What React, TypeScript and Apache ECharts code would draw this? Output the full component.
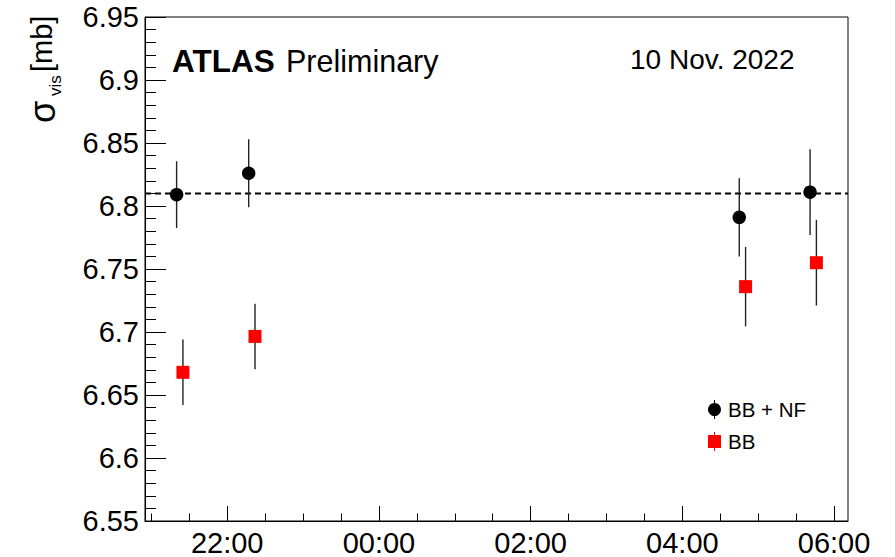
import { useEffect, useRef } from "react";
import * as echarts from "echarts";

// Visible cross-section measurements over one night, clock times HH:MM
const xRange = ["20:55", "06:11"];
const majorTimeTicks = ["22:00", "00:00", "02:00", "04:00", "06:00"];
const minorTimeTicks = [
  "21:00", "21:30", "22:30", "23:00", "23:30", "00:30", "01:00", "01:30",
  "02:30", "03:00", "03:30", "04:30", "05:00", "05:30",
];

const bbnfTimes = ["21:20", "22:17", "04:45", "05:41"];
const bbnfValues = [6.809, 6.826, 6.791, 6.811];
const bbnfErrors = [0.0265, 0.027, 0.031, 0.034];

const bbTimes = ["21:25", "22:22", "04:50", "05:46"];
const bbValues = [6.668, 6.6965, 6.736, 6.755];
const bbErrors = [0.026, 0.026, 0.0315, 0.034];

const referenceLevel = 6.81;
const yMin = 6.55;
const yMax = 6.95;
const yStep = 0.05;

const FONT = '"Liberation Sans", Arial, Helvetica, sans-serif';

// clock time -> hours; times after midnight belong to the next day
const toHours = (t: string) => {
  const [h, m] = t.split(":").map(Number);
  const v = h + m / 60;
  return v < 12 ? v + 24 : v;
};

const toClock = (v: number) => {
  const total = Math.round(v * 60);
  const h = Math.floor(total / 60) % 24;
  const m = total % 60;
  return `${String(h).padStart(2, "0")}:${String(m).padStart(2, "0")}`;
};

const circleIcon =
  "path://M6.5,3 A6.5,6.5 0 1 1 6.49,3 Z M6,0 H7 V19 H6 Z";
const squareIcon = "path://M0,3 H13 V16 H0 Z M6,0 H7 V19 H6 Z";

const errorBarSeries = (times: string[], values: number[], errors: number[]) => ({
  type: "custom",
  z: 2,
  silent: true,
  data: times.map((t, i) => [toHours(t), values[i], errors[i]]),
  encode: { x: 0, y: 1 },
  renderItem: (_params: any, api: any) => {
    const x = api.value(0);
    const y = api.value(1);
    const e = api.value(2);
    const top = api.coord([x, y + e]);
    const bottom = api.coord([x, y - e]);
    return {
      type: "line",
      shape: { x1: top[0], y1: top[1], x2: bottom[0], y2: bottom[1] },
      style: { stroke: "#222", lineWidth: 1.4 },
    };
  },
});

export default function App() {
  const ref = useRef<HTMLDivElement>(null);

  useEffect(() => {
    if (!ref.current) return;
    const chart = echarts.init(ref.current, undefined, { renderer: "svg" });
    const xMin = toHours(xRange[0]);
    const xMax = toHours(xRange[1]);
    const majors = majorTimeTicks.map(toHours);
    const minors = minorTimeTicks.map(toHours);

    chart.setOption({
      animation: false,
      backgroundColor: "#fff",
      grid: {
        left: 145,
        right: 47,
        top: 17,
        bottom: 34,
        show: true,
        borderColor: "#000",
        borderWidth: 1,
      },
      xAxis: [
        {
          type: "value",
          min: xMin,
          max: xMax,
          position: "bottom",
          axisLine: { show: true, lineStyle: { color: "#000", width: 1 } },
          axisTick: {
            show: true,
            inside: true,
            length: 15,
            customValues: majors,
            lineStyle: { color: "#000", width: 1 },
          },
          axisLabel: {
            customValues: majors,
            formatter: (v: number) => toClock(v),
            fontSize: 29,
            fontFamily: FONT,
            color: "#000",
            margin: 7,
          },
          splitLine: { show: false },
        },
        {
          type: "value",
          min: xMin,
          max: xMax,
          position: "bottom",
          axisLine: { show: false },
          axisTick: {
            show: true,
            inside: true,
            length: 7.5,
            customValues: minors,
            lineStyle: { color: "#000", width: 1 },
          },
          axisLabel: { show: false },
          splitLine: { show: false },
        },
      ],
      yAxis: {
        type: "value",
        min: yMin,
        max: yMax,
        interval: yStep,
        axisLine: { show: true, lineStyle: { color: "#000", width: 1 } },
        axisTick: {
          show: true,
          inside: true,
          length: 21,
          lineStyle: { color: "#000", width: 1 },
        },
        minorTick: {
          show: true,
          splitNumber: 5,
          length: 11,
          lineStyle: { color: "#000", width: 1 },
        },
        axisLabel: {
          showMinLabel: true,
          showMaxLabel: true,
          formatter: (v: number) => String(parseFloat(v.toFixed(2))),
          fontSize: 29,
          fontFamily: FONT,
          color: "#000",
          margin: 6,
        },
        splitLine: { show: false },
        minorSplitLine: { show: false },
      },
      legend: {
        orient: "vertical",
        left: 703,
        top: 394,
        itemWidth: 13,
        itemHeight: 19,
        itemGap: 11,
        selectedMode: false,
        textStyle: {
          fontSize: 20.5,
          lineHeight: 19,
          fontFamily: FONT,
          color: "#000",
          padding: [0, 0, 0, 2],
        },
        data: [
          { name: "BB + NF", icon: circleIcon },
          { name: "BB", icon: squareIcon },
        ],
      },
      graphic: [
        {
          type: "text",
          x: 172,
          y: 61,
          style: {
            text: "ATLAS",
            fontSize: 31.5,
            fontWeight: "bold",
            fontFamily: FONT,
            fill: "#000",
            textAlign: "left",
            textVerticalAlign: "middle",
          },
        },
        {
          type: "text",
          x: 286,
          y: 61,
          style: {
            text: "Preliminary",
            fontSize: 30.5,
            fontFamily: FONT,
            fill: "#000",
            textAlign: "left",
            textVerticalAlign: "middle",
          },
        },
        {
          type: "text",
          x: 630,
          y: 59,
          style: {
            text: "10 Nov. 2022",
            fontSize: 28,
            fontFamily: FONT,
            fill: "#000",
            textAlign: "left",
            textVerticalAlign: "middle",
          },
        },
        {
          type: "group",
          x: 42,
          y: 123,
          rotation: Math.PI / 2,
          children: [
            {
              type: "text",
              x: 0,
              y: 0,
              style: {
                text: "σ",
                fontSize: 36,
                fontFamily: FONT,
                fill: "#000",
                textAlign: "left",
                textVerticalAlign: "middle",
              },
            },
            {
              type: "text",
              x: 27,
              y: 13,
              style: {
                text: "vis",
                fontSize: 17,
                fontFamily: FONT,
                fill: "#000",
                textAlign: "left",
                textVerticalAlign: "middle",
              },
            },
            {
              type: "text",
              x: 51,
              y: 0,
              style: {
                text: "[mb]",
                fontSize: 29,
                fontFamily: FONT,
                fill: "#000",
                textAlign: "left",
                textVerticalAlign: "middle",
              },
            },
          ],
        },
      ],
      series: [
        {
          type: "line",
          silent: true,
          z: 1,
          symbol: "none",
          data: [
            [xMin, referenceLevel],
            [xMax, referenceLevel],
          ],
          lineStyle: { color: "#000", width: 2, type: [6, 4] },
        },
        errorBarSeries(bbnfTimes, bbnfValues, bbnfErrors),
        errorBarSeries(bbTimes, bbValues, bbErrors),
        {
          name: "BB + NF",
          type: "scatter",
          z: 3,
          symbol: "circle",
          symbolSize: 13.5,
          itemStyle: { color: "#000", opacity: 1 },
          data: bbnfTimes.map((t, i) => [toHours(t), bbnfValues[i]]),
        },
        {
          name: "BB",
          type: "scatter",
          z: 3,
          symbol: "rect",
          symbolSize: 13,
          itemStyle: { color: "#ff0000", opacity: 1 },
          data: bbTimes.map((t, i) => [toHours(t), bbValues[i]]),
        },
      ],
    });

    return () => chart.dispose();
  }, []);

  return (
    <div
      ref={ref}
      style={{ position: "absolute", left: 0, top: 0, width: 895, height: 557 }}
    />
  );
}
